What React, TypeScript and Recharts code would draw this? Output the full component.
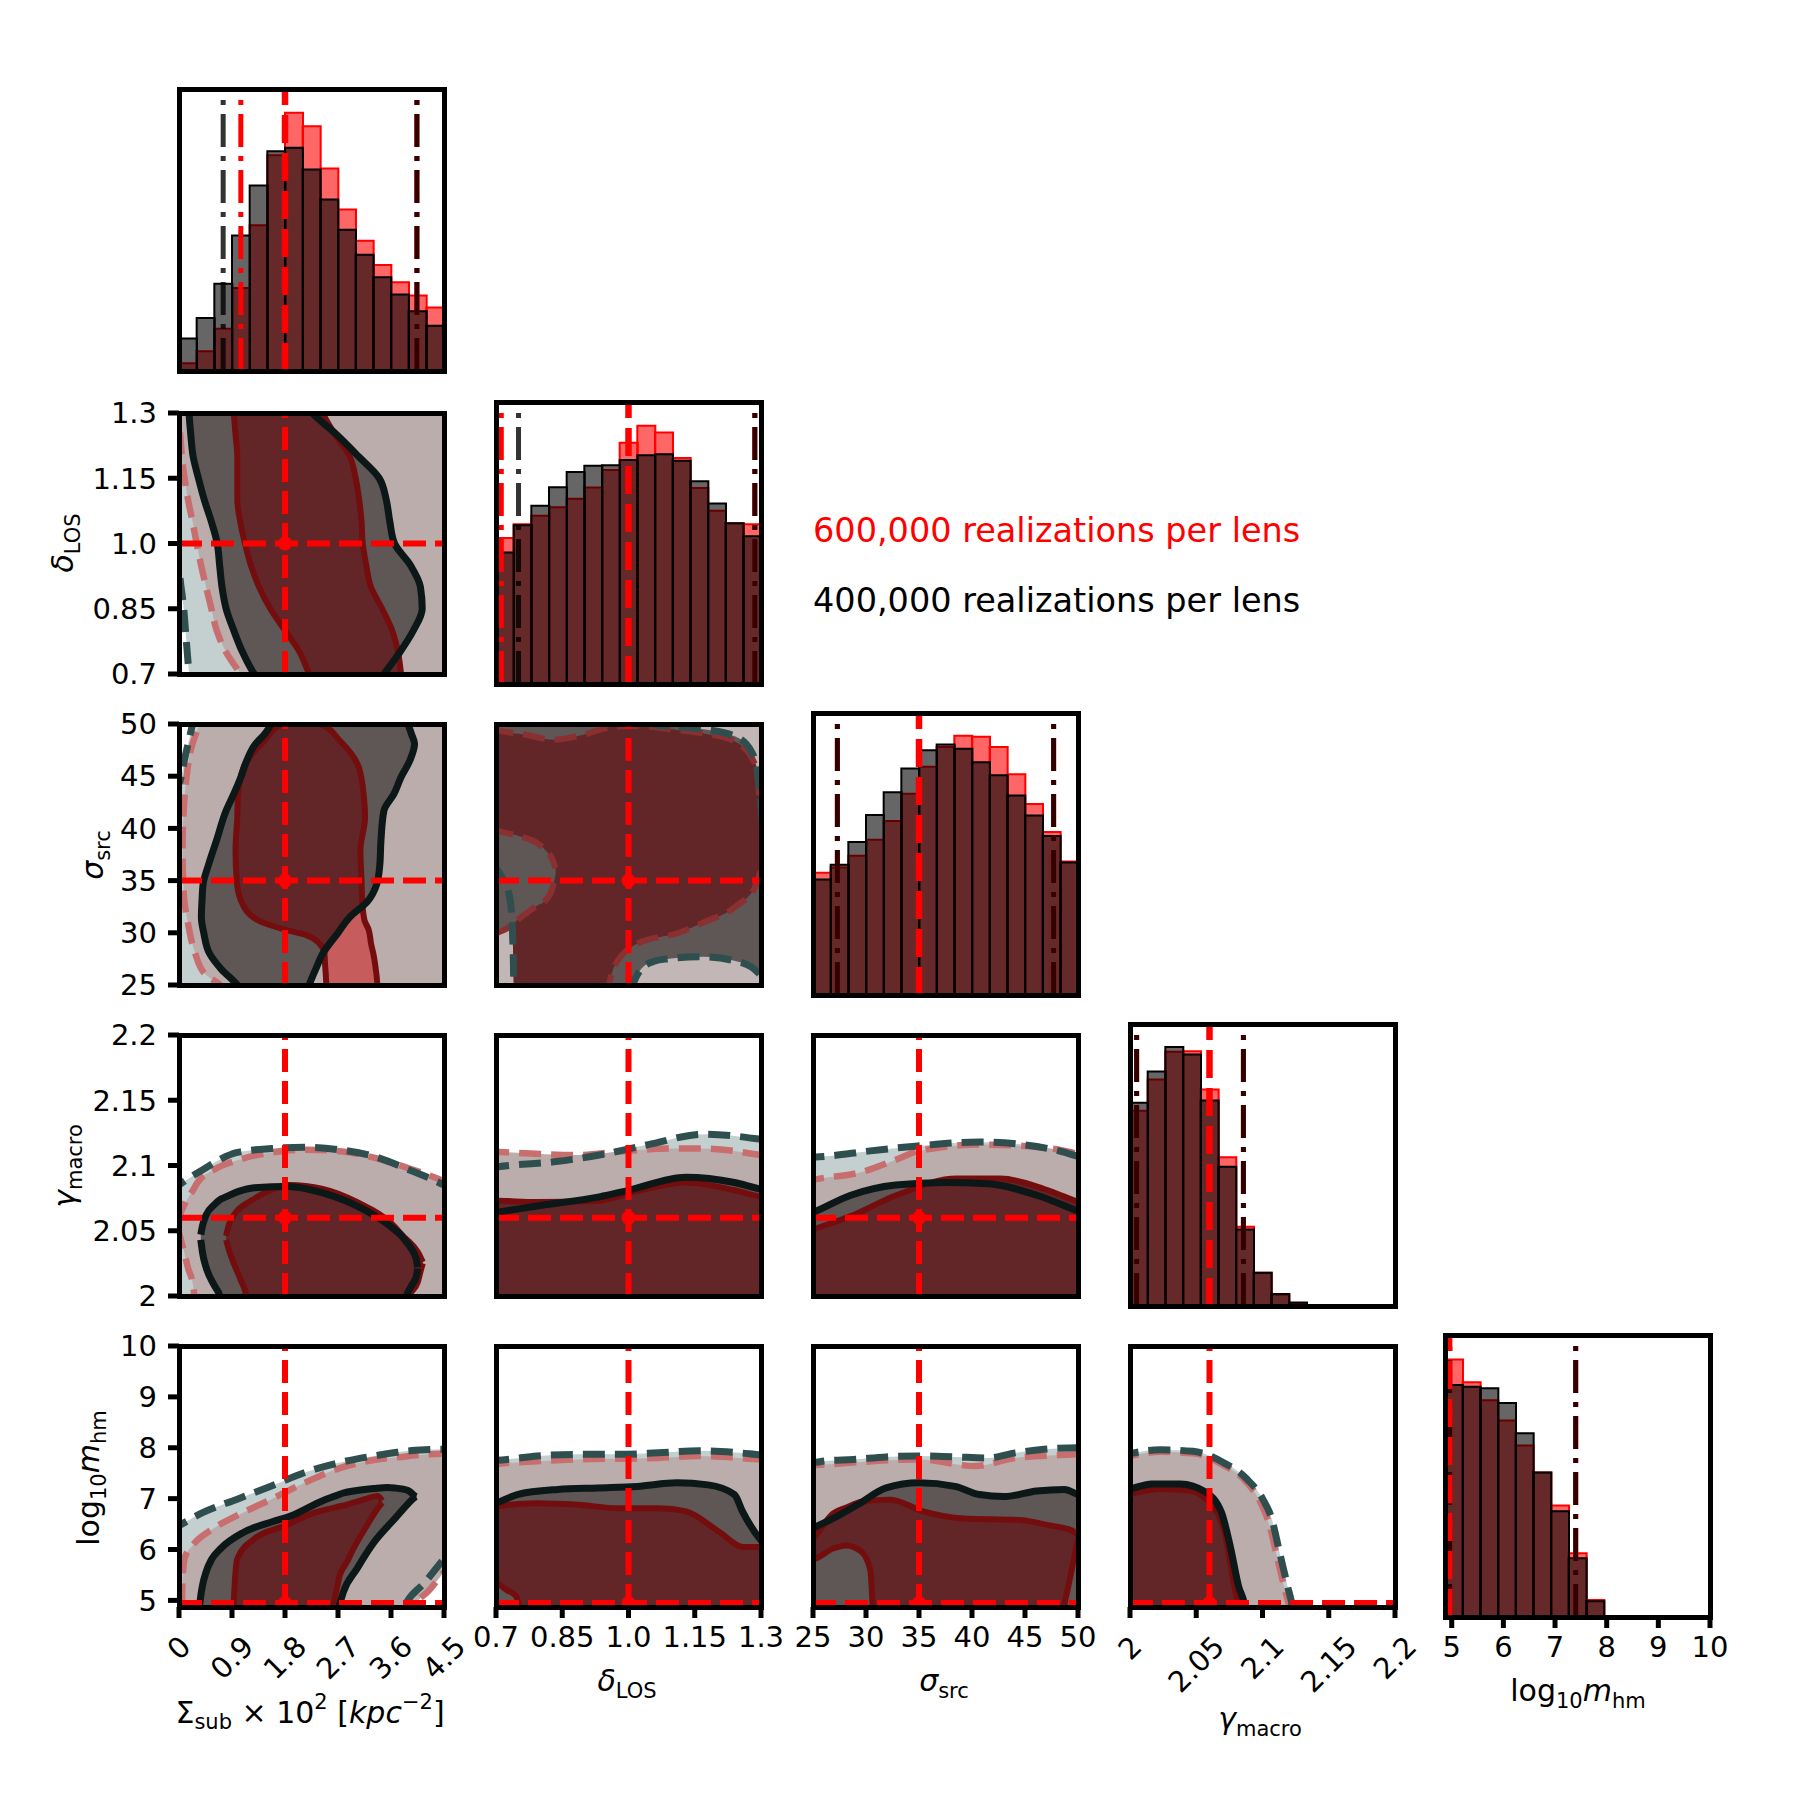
import React from "react";
import {
  ComposedChart,
  Area,
  Bar,
  XAxis,
  YAxis,
  ReferenceLine,
  ReferenceDot,
} from "recharts";

// [t, lo, hi]: t runs along the independent axis, [lo, hi] is the covered span
type Band = [number, number, number];

// ---- parameter axes ----
const SUB_TICKS = [0, 0.9, 1.8, 2.7, 3.6, 4.5];
const SUB_LABELS = ["0", "0.9", "1.8", "2.7", "3.6", "4.5"];
const LOS_TICKS = [0.7, 0.85, 1.0, 1.15, 1.3];
const LOS_LABELS = ["0.7", "0.85", "1.0", "1.15", "1.3"];
const SRC_TICKS = [25, 30, 35, 40, 45, 50];
const SRC_LABELS = ["25", "30", "35", "40", "45", "50"];
const GAM_TICKS = [2, 2.05, 2.1, 2.15, 2.2];
const GAM_LABELS = ["2", "2.05", "2.1", "2.15", "2.2"];
const MHM_TICKS = [5, 6, 7, 8, 9, 10];
const MHM_LABELS = ["5", "6", "7", "8", "9", "10"];

// true input values
const TRUTH = [1.8, 1.0, 35, 2.06, 4.95];

// ---- marginal histograms (15 bins each, 600k run in red, 400k run in black) ----
const SUB_RED = [23, 58, 124, 244, 429, 635, 760, 720, 596, 475, 383, 312, 261, 222, 187];
const SUB_BLACK = [96, 156, 257, 399, 546, 647, 657, 593, 505, 416, 342, 276, 225, 176, 133];
const LOS_RED = [430, 470, 495, 520, 545, 578, 630, 710, 760, 740, 665, 577, 510, 473, 470];
const LOS_BLACK = [387, 467, 525, 579, 624, 642, 644, 659, 673, 676, 657, 597, 531, 473, 435];
const SRC_RED = [360, 375, 410, 457, 512, 592, 672, 730, 763, 760, 730, 650, 562, 480, 393];
const SRC_BLACK = [340, 383, 450, 530, 597, 667, 720, 737, 725, 685, 647, 587, 528, 468, 390];
const GAM_RED = [575, 667, 748, 750, 637, 438, 233, 98, 33, 8, 2, 0, 0, 0, 0];
const GAM_BLACK = [598, 690, 762, 740, 605, 410, 225, 98, 35, 10, 3, 0, 0, 0, 0];
const MHM_RED = [758, 691, 638, 578, 505, 425, 328, 188, 50, 3, 0, 0, 0, 0, 0];
const MHM_BLACK = [683, 678, 673, 630, 541, 425, 311, 173, 46, 0, 0, 0, 0, 0, 0];

// 95% interval bounds drawn on the marginals
const SUB_CI_RED = [1.05, 4.04];
const SUB_CI_BLACK = [0.75, 4.04];
const LOS_CI_RED = [0.712, 1.286];
const LOS_CI_BLACK = [0.751, 1.286];
const SRC_CI_RED = [27.3, 47.7];
const SRC_CI_BLACK = [27.3, 47.7];
const GAM_CI_RED = [2.005, 2.0856];
const GAM_CI_BLACK = [2.005, 2.0856];
const MHM_CI_RED = [4.96, 7.4];
const MHM_CI_BLACK = [4.96, 7.4];

// ---- joint contours. K = 400k run, R = 600k run, 2 = 95%, 1 = 68% ----
// delta_LOS (t) vs Sigma_sub (span)
const LOS_SUB_K2: Band[] = [
  [0.65, 0.2, 5], [0.7, 0.17, 5], [0.75, 0.14, 5], [0.8, 0.11, 5], [0.85, 0.08, 5],
  [0.9, 0.035, 5], [0.93, 0.0, 5], [0.95, -0.5, 5], [1.35, -0.5, 5],
];
const LOS_SUB_R2: Band[] = [
  [0.65, 1.3, 5], [0.7, 1.045, 5], [0.75, 0.8, 5], [0.8, 0.64, 5], [0.85, 0.55, 5],
  [0.9, 0.46, 5], [0.95, 0.375, 5], [1.0, 0.3, 5], [1.05, 0.23, 5], [1.1, 0.155, 5],
  [1.15, 0.095, 5], [1.2, 0.05, 5], [1.25, 0.02, 5], [1.28, 0.0, 5], [1.3, -0.5, 5], [1.35, -0.5, 5],
];
const LOS_SUB_K1: Band[] = [
  [0.65, 1.6, 3.2], [0.7, 1.28, 3.48], [0.75, 1.08, 3.75], [0.8, 0.93, 3.98], [0.85, 0.8, 4.13],
  [0.9, 0.73, 4.1], [0.95, 0.69, 3.93], [1.0, 0.65, 3.66], [1.05, 0.55, 3.58], [1.1, 0.43, 3.52],
  [1.15, 0.33, 3.4], [1.2, 0.24, 3.05], [1.25, 0.2, 2.68], [1.3, 0.17, 2.26], [1.35, 0.15, 2.0],
];
const LOS_SUB_R1: Band[] = [
  [0.65, 2.4, 3.8], [0.7, 2.21, 3.77], [0.75, 2.05, 3.72], [0.8, 1.8, 3.62], [0.85, 1.55, 3.45],
  [0.9, 1.36, 3.26], [0.95, 1.22, 3.18], [1.0, 1.12, 3.12], [1.05, 1.04, 3.1], [1.1, 0.99, 3.06],
  [1.15, 0.99, 3.0], [1.2, 0.99, 2.9], [1.25, 0.96, 2.65], [1.3, 0.93, 2.44], [1.35, 0.9, 2.3],
];

// sigma_src (t) vs Sigma_sub (span)
const SRC_SUB_K2: Band[] = [
  [24, -0.5, 5], [44.0, -0.5, 5], [44.3, 0.0, 5], [45, 0.04, 5], [46.5, 0.09, 5],
  [48, 0.15, 5], [50, 0.23, 5], [51, 0.27, 5],
];
const SRC_SUB_R2: Band[] = [
  [24, 0.8, 5], [25, 0.7, 5], [26, 0.45, 5], [28.3, 0.26, 5], [31, 0.15, 5], [33.1, 0.09, 5],
  [36, 0.065, 5], [38, 0.06, 5], [42.7, 0.09, 5], [45, 0.13, 5], [47.5, 0.2, 5], [50, 0.35, 5], [51, 0.42, 5],
];
const SRC_SUB_K1: Band[] = [
  [24, 1.1, 2.15], [25, 0.99, 2.21], [26.5, 0.72, 2.32], [28, 0.52, 2.44], [30, 0.42, 2.7],
  [31.5, 0.38, 2.9], [33, 0.39, 3.2], [34.7, 0.41, 3.36], [36.5, 0.5, 3.41], [38.9, 0.64, 3.43],
  [41.7, 0.8, 3.48], [43.3, 0.93, 3.65], [44.9, 1.05, 3.77], [46.5, 1.15, 3.92], [48.1, 1.3, 4.0],
  [49, 1.45, 3.95], [50, 1.57, 3.89], [51, 1.7, 3.85],
];
const SRC_SUB_R1: Band[] = [
  [24, 2.5, 3.38], [25, 2.5, 3.37], [27, 2.48, 3.33], [28, 2.47, 3.3], [29, 2.38, 3.26],
  [29.8, 2.15, 3.24], [30.3, 1.8, 3.22], [31.2, 1.34, 3.15], [33.1, 1.05, 3.11], [35, 0.98, 3.1],
  [37.9, 0.96, 3.08], [41.1, 0.99, 3.16], [43, 1.0, 3.14], [45.9, 1.1, 3.05], [48.4, 1.45, 2.73],
  [50, 1.75, 2.4], [50.5, 2.0, 2.1],
];
// part of the red 68% region lying outside the black one
const SRC_SUB_RONLY: Band[] = [
  [24, 2.5, 3.38], [25, 2.5, 3.37], [27, 2.48, 3.33], [28, 2.47, 3.3], [29, 2.57, 3.26],
  [30, 2.7, 3.22], [31.5, 2.92, 3.15], [32.6, 3.1, 3.11],
];

// sigma_src (span) vs delta_LOS (t)
const SRC_LOS_OUT: Band[] = [[0.65, 20, 55], [1.35, 20, 55]];
const SRC_LOS_K2: Band[] = [
  [0.69, 36.6, 51], [0.7, 36.2, 51], [0.715, 35.2, 51], [0.729, 33.8, 51], [0.736, 31.5, 51],
  [0.739, 28, 51], [0.741, 24, 51], [1.0, 24, 51], [1.009, 25, 51], [1.03, 26.6, 51],
  [1.06, 27.3, 49.9], [1.087, 27.5, 49.8], [1.169, 27.7, 49.5], [1.242, 27.3, 48.8],
  [1.279, 26.7, 47.3], [1.293, 26.2, 45.1], [1.3, 25.9, 42], [1.31, 25.5, 36],
];
const SRC_LOS_R1: Band[] = [
  [0.69, 36.6, 49.45], [0.7, 36.2, 49.45], [0.715, 35.2, 49.3], [0.729, 33.8, 49.2],
  [0.736, 31.5, 49.15], [0.739, 28, 49.1], [0.741, 24, 49.1], [0.83, 24, 48.5], [0.9, 24, 49.0],
  [0.949, 24.5, 49.6], [0.967, 26.7, 49.75], [1.022, 29.0, 49.8], [1.114, 30.0, 49.4],
  [1.17, 31.0, 49.1], [1.242, 32.5, 48.3], [1.288, 34.5, 46.0], [1.297, 35.7, 42.8], [1.31, 37, 40],
];
const SRC_LOS_GAP: Band[] = [
  [0.69, 29.5, 39.9], [0.7, 29.9, 39.8], [0.72, 30.3, 39.6], [0.757, 31.5, 39.2],
  [0.793, 32.6, 38.6], [0.812, 33.1, 37.9], [0.828, 34.3, 37.0], [0.835, 35.6, 36.2],
];

// gamma_macro (span) vs Sigma_sub (t)
const GAM_SUB_K2: Band[] = [
  [-0.2, 1.95, 2.078], [0, 1.95, 2.085], [0.41, 1.95, 2.097], [0.99, 1.95, 2.11], [1.57, 1.95, 2.113],
  [2.15, 1.95, 2.114], [2.73, 1.95, 2.112], [3.31, 1.95, 2.107], [3.89, 1.95, 2.097], [4.5, 1.95, 2.085],
  [4.7, 1.95, 2.08],
];
const GAM_SUB_R2: Band[] = [
  [-0.05, 2.052, 2.057], [0.0, 2.048, 2.06], [0.05, 2.04, 2.066], [0.15, 2.022, 2.075],
  [0.25, 2.005, 2.082], [0.3, 1.95, 2.086], [0.6, 1.95, 2.097], [0.99, 1.95, 2.104], [1.57, 1.95, 2.11],
  [2.15, 1.95, 2.112], [2.73, 1.95, 2.111], [3.31, 1.95, 2.106], [3.89, 1.95, 2.098], [4.5, 1.95, 2.088],
  [4.7, 1.95, 2.084],
];
const GAM_SUB_K1: Band[] = [
  [0.37, 2.043, 2.047], [0.4, 2.033, 2.054], [0.46, 2.022, 2.062], [0.6, 2.008, 2.07], [0.7, 1.999, 2.074],
  [0.75, 1.95, 2.075], [1.0, 1.95, 2.08], [1.28, 1.95, 2.083], [1.86, 1.95, 2.084], [2.44, 1.95, 2.079],
  [3.02, 1.95, 2.069], [3.6, 1.95, 2.053], [3.78, 1.95, 2.046], [3.85, 1.998, 2.042], [3.95, 2.008, 2.036],
  [4.03, 2.015, 2.028], [4.05, 2.021, 2.022],
];
const GAM_SUB_R1: Band[] = [
  [0.8, 2.043, 2.046], [0.85, 2.035, 2.055], [0.93, 2.025, 2.062], [1.05, 2.012, 2.068], [1.15, 1.999, 2.071],
  [1.22, 1.95, 2.073], [1.5, 1.95, 2.08], [1.86, 1.95, 2.085], [2.44, 1.95, 2.082], [3.02, 1.95, 2.072],
  [3.6, 1.95, 2.056], [3.85, 1.95, 2.044], [3.9, 1.999, 2.042], [4.05, 2.01, 2.034], [4.12, 2.022, 2.028],
  [4.14, 2.025, 2.026],
];

// gamma_macro (span) vs delta_LOS (t)
const GAM_LOS_K2: Band[] = [
  [0.68, 1.95, 2.098], [0.73, 1.95, 2.1], [0.836, 1.95, 2.103], [0.934, 1.95, 2.108], [1.045, 1.95, 2.116],
  [1.171, 1.95, 2.124], [1.3, 1.95, 2.12], [1.32, 1.95, 2.119],
];
const GAM_LOS_R2: Band[] = [
  [0.68, 1.95, 2.111], [0.79, 1.95, 2.109], [0.88, 1.95, 2.108], [0.99, 1.95, 2.111], [1.09, 1.95, 2.113],
  [1.17, 1.95, 2.113], [1.3, 1.95, 2.108], [1.32, 1.95, 2.107],
];
const GAM_LOS_K1: Band[] = [
  [0.68, 1.95, 2.063], [0.7, 1.95, 2.064], [0.793, 1.95, 2.069], [0.934, 1.95, 2.076], [1.0, 1.95, 2.081],
  [1.13, 1.95, 2.091], [1.24, 1.95, 2.087], [1.3, 1.95, 2.082], [1.32, 1.95, 2.081],
];
const GAM_LOS_R1: Band[] = [
  [0.68, 1.95, 2.073], [0.7, 1.95, 2.073], [0.79, 1.95, 2.072], [0.93, 1.95, 2.073], [1.015, 1.95, 2.08],
  [1.13, 1.95, 2.087], [1.24, 1.95, 2.081], [1.3, 1.95, 2.076], [1.32, 1.95, 2.075],
];

// gamma_macro (span) vs sigma_src (t)
const GAM_SRC_K2: Band[] = [
  [24, 1.95, 2.106], [26.2, 1.95, 2.107], [30.2, 1.95, 2.111], [34.9, 1.95, 2.115], [40.7, 1.95, 2.118],
  [44.8, 1.95, 2.116], [48.3, 1.95, 2.111], [50, 1.95, 2.107], [51, 1.95, 2.105],
];
const GAM_SRC_R2: Band[] = [
  [24, 1.95, 2.087], [25, 1.95, 2.089], [29.6, 1.95, 2.095], [33, 1.95, 2.105], [34.9, 1.95, 2.111],
  [40.7, 1.95, 2.116], [44.8, 1.95, 2.115], [48.3, 1.95, 2.112], [50, 1.95, 2.109], [51, 1.95, 2.108],
];
const GAM_SRC_K1: Band[] = [
  [24, 1.95, 2.061], [25, 1.95, 2.064], [28.5, 1.95, 2.077], [32.8, 1.95, 2.085], [37.4, 1.95, 2.087],
  [41.5, 1.95, 2.086], [46.2, 1.95, 2.077], [50, 1.95, 2.065], [51, 1.95, 2.062],
];
const GAM_SRC_R1: Band[] = [
  [24, 1.95, 2.048], [25, 1.95, 2.051], [28.5, 1.95, 2.061], [32.8, 1.95, 2.077], [38.6, 1.95, 2.09],
  [42.7, 1.95, 2.09], [46.8, 1.95, 2.082], [50, 1.95, 2.072], [51, 1.95, 2.069],
];

// log10 m_hm (span) vs Sigma_sub (t)
const MHM_SUB_K2: Band[] = [
  [-0.2, 4.5, 6.35], [0, 4.5, 6.47], [0.41, 4.5, 6.73], [0.99, 4.5, 6.99], [1.57, 4.5, 7.25],
  [2.15, 4.5, 7.52], [2.73, 4.5, 7.71], [3.31, 4.5, 7.84], [3.7, 4.5, 7.91], [3.83, 4.88, 7.93],
  [4.18, 5.36, 7.96], [4.5, 5.82, 7.97], [4.7, 6.1, 7.97],
];
const MHM_SUB_R2: Band[] = [
  [0.05, 4.5, 4.9], [0.06, 4.5, 5.4], [0.1, 4.5, 5.85], [0.23, 4.5, 6.08], [0.58, 4.5, 6.41],
  [0.99, 4.5, 6.67], [1.57, 4.5, 6.99], [2.15, 4.5, 7.32], [2.73, 4.5, 7.6], [3.31, 4.5, 7.76],
  [3.85, 4.5, 7.83], [3.99, 4.88, 7.85], [4.25, 5.2, 7.87], [4.5, 5.56, 7.88], [4.7, 5.85, 7.88],
];
const MHM_SUB_K1: Band[] = [
  [0.33, 4.5, 4.6], [0.36, 4.5, 5.0], [0.4, 4.5, 5.3], [0.46, 4.5, 5.56], [0.55, 4.5, 5.8],
  [0.7, 4.5, 6.01], [1.1, 4.5, 6.34], [1.57, 4.5, 6.54], [1.92, 4.5, 6.67], [2.44, 4.5, 6.96],
  [2.65, 4.5, 7.05], [2.72, 4.88, 7.08], [2.79, 5.16, 7.11], [3.02, 5.62, 7.16], [3.31, 6.14, 7.2],
  [3.54, 6.45, 7.22], [3.66, 6.6, 7.21], [3.89, 6.9, 7.16], [4.01, 7.03, 7.05], [4.03, 7.04, 7.04],
];
const MHM_SUB_R1: Band[] = [
  [0.92, 4.5, 4.7], [0.95, 4.5, 5.4], [0.99, 4.5, 5.82], [1.28, 4.5, 6.21], [1.8, 4.5, 6.47],
  [2.32, 4.5, 6.73], [2.55, 4.5, 6.8], [2.62, 4.88, 6.82], [2.73, 5.49, 6.85], [2.85, 5.75, 6.88],
  [2.96, 6.01, 6.92], [3.19, 6.47, 7.0], [3.37, 6.8, 7.05], [3.45, 6.92, 6.96],
];

// log10 m_hm (span) vs delta_LOS (t)
const MHM_LOS_K2: Band[] = [
  [0.68, 4.5, 7.74], [0.725, 4.5, 7.77], [0.793, 4.5, 7.84], [0.885, 4.5, 7.87], [0.977, 4.5, 7.87],
  [1.068, 4.5, 7.9], [1.16, 4.5, 7.94], [1.251, 4.5, 7.9], [1.3, 4.5, 7.86], [1.32, 4.5, 7.85],
];
const MHM_LOS_R2: Band[] = [
  [0.68, 4.5, 7.67], [0.725, 4.5, 7.7], [0.885, 4.5, 7.77], [1.068, 4.5, 7.8], [1.16, 4.5, 7.84],
  [1.3, 4.5, 7.77], [1.32, 4.5, 7.76],
];
const MHM_LOS_K1: Band[] = [
  [0.68, 4.5, 6.86], [0.7, 4.5, 6.91], [0.748, 4.5, 7.08], [0.84, 4.5, 7.18], [0.93, 4.5, 7.21],
  [1.02, 4.5, 7.24], [1.11, 4.5, 7.31], [1.18, 4.5, 7.27], [1.24, 4.5, 7.08], [1.258, 4.5, 6.75],
  [1.3, 4.5, 6.18], [1.32, 4.5, 6.0],
];
const MHM_LOS_R1: Band[] = [
  [0.68, 5.5, 6.83], [0.7, 5.36, 6.84], [0.725, 5.2, 6.87], [0.745, 5.09, 6.89], [0.766, 4.5, 6.9],
  [0.793, 4.5, 6.91], [0.885, 4.5, 6.88], [0.977, 4.5, 6.81], [1.068, 4.5, 6.81], [1.13, 4.5, 6.75],
  [1.205, 4.5, 6.35], [1.26, 4.5, 6.05], [1.3, 4.5, 6.05], [1.32, 4.5, 6.05],
];

// log10 m_hm (span) vs sigma_src (t)
const MHM_SRC_K2: Band[] = [
  [24, 4.5, 7.7], [25, 4.5, 7.71], [26.15, 4.5, 7.74], [28.8, 4.5, 7.77], [31.9, 4.5, 7.82],
  [35, 4.5, 7.84], [38.4, 4.5, 7.82], [41.5, 4.5, 7.8], [44.1, 4.5, 7.9], [46.8, 4.5, 7.97],
  [50, 4.5, 8.0], [51, 4.5, 8.0],
];
const MHM_SRC_R2: Band[] = [
  [24, 4.5, 7.64], [26.15, 4.5, 7.67], [35, 4.5, 7.77], [40.3, 4.5, 7.64], [44.1, 4.5, 7.8],
  [50, 4.5, 7.87], [51, 4.5, 7.88],
];
const MHM_SRC_K1: Band[] = [
  [24, 4.5, 6.3], [25, 4.5, 6.42], [26.9, 4.5, 6.61], [29.2, 4.5, 6.88], [31.9, 4.5, 7.21],
  [35, 4.5, 7.31], [38.4, 4.5, 7.24], [40.7, 4.5, 7.08], [43.0, 4.5, 7.04], [46.1, 4.5, 7.15],
  [48.7, 4.5, 7.18], [50, 4.5, 7.08], [51, 4.5, 7.0],
];
const MHM_SRC_R1: Band[] = [
  [24, 5.8, 6.1], [25, 5.81, 6.22], [26.9, 6.02, 6.71], [28.1, 6.08, 6.82], [29.6, 5.95, 6.94],
  [30.4, 5.6, 6.96], [30.6, 5.0, 6.97], [30.7, 4.5, 6.97], [32.3, 4.5, 6.98], [35.4, 4.5, 6.75],
  [39.2, 4.5, 6.61], [44.5, 4.5, 6.58], [47.2, 4.5, 6.48], [48.5, 4.5, 6.43], [48.7, 4.88, 6.42],
  [49.1, 5.29, 6.4], [49.6, 5.8, 6.35], [50, 6.18, 6.28], [50.2, 6.25, 6.26],
];

// log10 m_hm (span) vs gamma_macro (t)
const MHM_GAM_K2: Band[] = [
  [1.99, 4.5, 7.85], [2.0, 4.5, 7.89], [2.0225, 4.5, 7.96], [2.0475, 4.5, 7.93], [2.069, 4.5, 7.73],
  [2.088, 4.5, 7.39], [2.1, 4.5, 7.0], [2.107, 4.5, 6.6], [2.113, 4.5, 5.93], [2.119, 4.5, 5.27],
  [2.1225, 4.5, 4.88], [2.124, 4.5, 4.6],
];
const MHM_GAM_R2: Band[] = [
  [1.99, 4.5, 7.8], [2.0, 4.5, 7.84], [2.0225, 4.5, 7.92], [2.0475, 4.5, 7.89], [2.069, 4.5, 7.68],
  [2.087, 4.5, 7.35], [2.098, 4.5, 6.95], [2.105, 4.5, 6.5], [2.111, 4.5, 5.85], [2.117, 4.5, 5.2],
  [2.1205, 4.5, 4.85], [2.122, 4.5, 4.6],
];
const MHM_GAM_K1: Band[] = [
  [1.99, 4.5, 7.15], [2.0, 4.5, 7.19], [2.0163, 4.5, 7.29], [2.038, 4.5, 7.29], [2.057, 4.5, 7.13],
  [2.069, 4.5, 6.73], [2.0756, 4.5, 6.07], [2.082, 4.5, 5.27], [2.0866, 4.5, 4.88], [2.088, 4.5, 4.6],
];
const MHM_GAM_R1: Band[] = [
  [1.99, 4.5, 7.05], [2.0, 4.5, 7.09], [2.0225, 4.5, 7.19], [2.044, 4.5, 7.16], [2.0625, 4.5, 6.86],
  [2.072, 4.5, 6.27], [2.078, 4.5, 5.4], [2.0815, 4.5, 4.88], [2.083, 4.5, 4.6],
];

// ---- layout ----
const FONT = "'DejaVu Sans', sans-serif";
const TICK_PX = 29;
const COL_X = [179, 496, 813, 1130, 1445];
const HIST_TOP = [89, 402, 713, 1024, 1335];
const PAIR_TOP = [0, 413, 724, 1035, 1346];
const PANEL_W = 265;
const PAIR_H = 261;
const HIST_H = 282;
const HIST_MAX = 830;

const COLORS = {
  k2Fill: "#c4d0d0",
  r2Fill: "#bcadad",
  k1Fill: "#5f5656",
  r1Fill: "#632628",
  rOnly: "#c65c5c",
  lobe: "#c3b6b6",
  k2Line: "#2f4f4f",
  r2Line: "#c96e6e",
  k1Line: "#0c1717",
  r1Line: "#740e0e",
  r1Dash: "#8a3030",
};

interface Param {
  domain: [number, number];
  ticks: number[];
  labels: string[];
  slant: boolean;
}

const PARAMS: Param[] = [
  { domain: [0, 4.5], ticks: SUB_TICKS, labels: SUB_LABELS, slant: true },
  { domain: [0.7, 1.3], ticks: LOS_TICKS, labels: LOS_LABELS, slant: false },
  { domain: [25, 50], ticks: SRC_TICKS, labels: SRC_LABELS, slant: false },
  { domain: [2, 2.2], ticks: GAM_TICKS, labels: GAM_LABELS, slant: true },
  { domain: [4.87, 10], ticks: MHM_TICKS, labels: MHM_LABELS, slant: false },
];

const HISTS = [
  { red: SUB_RED, black: SUB_BLACK, ciRed: SUB_CI_RED, ciBlack: SUB_CI_BLACK },
  { red: LOS_RED, black: LOS_BLACK, ciRed: LOS_CI_RED, ciBlack: LOS_CI_BLACK },
  { red: SRC_RED, black: SRC_BLACK, ciRed: SRC_CI_RED, ciBlack: SRC_CI_BLACK },
  { red: GAM_RED, black: GAM_BLACK, ciRed: GAM_CI_RED, ciBlack: GAM_CI_BLACK },
  { red: MHM_RED, black: MHM_BLACK, ciRed: MHM_CI_RED, ciBlack: MHM_CI_BLACK },
];

interface Layer {
  rows: Band[];
  fill?: string;
  line?: string;
  dash?: string;
  lw?: number;
  rank?: number;
}

// fills go black 95%, red 95%, black 68%, red 68%; outlines put the black ones on top
const std = (k2: Band[], r2: Band[], k1: Band[], r1: Band[]): Layer[] => [
  { rows: k2, fill: COLORS.k2Fill, line: COLORS.k2Line, dash: "22 10", lw: 7, rank: 1 },
  { rows: r2, fill: COLORS.r2Fill, line: COLORS.r2Line, dash: "22 10", lw: 6.5, rank: 0 },
  { rows: k1, fill: COLORS.k1Fill, line: COLORS.k1Line, lw: 7, rank: 3 },
  { rows: r1, fill: COLORS.r1Fill, line: COLORS.r1Line, lw: 6, rank: 2 },
];

const PAIRS: { row: number; col: number; vertical?: boolean; layers: Layer[] }[] = [
  { row: 1, col: 0, vertical: true, layers: std(LOS_SUB_K2, LOS_SUB_R2, LOS_SUB_K1, LOS_SUB_R1) },
  {
    row: 2,
    col: 0,
    vertical: true,
    layers: [...std(SRC_SUB_K2, SRC_SUB_R2, SRC_SUB_K1, SRC_SUB_R1), { rows: SRC_SUB_RONLY, fill: COLORS.rOnly }],
  },
  {
    row: 2,
    col: 1,
    layers: [
      { rows: SRC_LOS_OUT, fill: COLORS.lobe },
      { rows: SRC_LOS_K2, fill: COLORS.k1Fill, line: COLORS.k2Line, dash: "22 10", lw: 7, rank: 2 },
      { rows: SRC_LOS_R1, fill: COLORS.r1Fill, line: COLORS.r1Dash, dash: "22 10", lw: 6, rank: 0 },
      { rows: SRC_LOS_GAP, fill: COLORS.k1Fill, line: COLORS.r1Dash, dash: "22 10", lw: 6, rank: 1 },
    ],
  },
  { row: 3, col: 0, layers: std(GAM_SUB_K2, GAM_SUB_R2, GAM_SUB_K1, GAM_SUB_R1) },
  { row: 3, col: 1, layers: std(GAM_LOS_K2, GAM_LOS_R2, GAM_LOS_K1, GAM_LOS_R1) },
  { row: 3, col: 2, layers: std(GAM_SRC_K2, GAM_SRC_R2, GAM_SRC_K1, GAM_SRC_R1) },
  { row: 4, col: 0, layers: std(MHM_SUB_K2, MHM_SUB_R2, MHM_SUB_K1, MHM_SUB_R1) },
  { row: 4, col: 1, layers: std(MHM_LOS_K2, MHM_LOS_R2, MHM_LOS_K1, MHM_LOS_R1) },
  { row: 4, col: 2, layers: std(MHM_SRC_K2, MHM_SRC_R2, MHM_SRC_K1, MHM_SRC_R1) },
  { row: 4, col: 3, layers: std(MHM_GAM_K2, MHM_GAM_R2, MHM_GAM_K1, MHM_GAM_R1) },
];

const toRows = (b: Band[]) => b.map(([t, lo, hi]) => ({ t, band: [lo, hi] }));

const labelOf = (p: Param) => (v: number) => {
  const i = p.ticks.indexOf(v);
  return i >= 0 ? p.labels[i] : String(v);
};

// rough DejaVu Sans advance widths for tick strings
const textWidth = (s: string, size: number) =>
  s.split("").reduce((w, ch) => w + (ch === "." ? 0.318 : 0.636), 0) * size;

function SlantTick(props: any) {
  const { x, y, payload, fmt } = props;
  const label = fmt(payload.value);
  const half = ((textWidth(label, TICK_PX) + 21) * Math.SQRT1_2) / 2;
  const cy = y + 8 + half;
  return (
    <text
      x={x}
      y={cy}
      textAnchor="middle"
      dominantBaseline="central"
      transform={`rotate(-45, ${x}, ${cy})`}
      fontSize={TICK_PX}
      fontFamily={FONT}
      fill="#000"
    >
      {label}
    </text>
  );
}

const TICK_TEXT = { fontSize: TICK_PX, fill: "#000", fontFamily: FONT };
const TICK_LINE = { stroke: "#000", strokeWidth: 5 };

function Frame({ x, y, w, h }: { x: number; y: number; w: number; h: number }) {
  return (
    <div
      style={{
        position: "absolute",
        left: x - 2.5,
        top: y - 2.5,
        width: w + 5,
        height: h + 5,
        border: "5px solid #000",
        boxSizing: "border-box",
      }}
    />
  );
}

function bottomAxis(p: Param, show: boolean, extra: Record<string, unknown>) {
  const fmt = labelOf(p);
  return (
    <XAxis
      type="number"
      domain={p.domain}
      allowDataOverflow
      ticks={p.ticks}
      interval={0}
      hide={!show}
      height={110}
      tickSize={11}
      tickMargin={8}
      tickLine={TICK_LINE}
      axisLine={false}
      tick={p.slant ? <SlantTick fmt={fmt} /> : TICK_TEXT}
      tickFormatter={fmt}
      {...extra}
    />
  );
}

// chart padding around a panel: room for tick labels only where they are drawn
const padsFor = (showY: boolean, showX: boolean) => ({
  top: showY ? 25 : 10,
  left: showY ? 130 : showX ? 40 : 10,
  right: showX ? 40 : 10,
  bottom: showX ? 120 : showY ? 25 : 10,
});

function PairPanel({ spec }: { spec: (typeof PAIRS)[number] }) {
  const { row, col, vertical, layers } = spec;
  const px = PARAMS[col];
  const py = PARAMS[row];
  const showY = col === 0;
  const showX = row === 4;
  const pad = padsFor(showY, showX);
  const strokes = layers.filter((l) => l.line).sort((a, b) => (a.rank ?? 0) - (b.rank ?? 0));
  return (
    <>
      <div style={{ position: "absolute", left: COL_X[col] - pad.left, top: PAIR_TOP[row] - pad.top }}>
        <ComposedChart
          width={PANEL_W + pad.left + pad.right}
          height={PAIR_H + pad.top + pad.bottom}
          layout={vertical ? "vertical" : "horizontal"}
          margin={{
            top: pad.top,
            right: pad.right,
            left: showY ? pad.left - 120 : pad.left,
            bottom: showX ? pad.bottom - 110 : pad.bottom,
          }}
        >
          {bottomAxis(px, showX, vertical ? {} : { dataKey: "t" })}
          <YAxis
            type="number"
            dataKey={vertical ? "t" : undefined}
            domain={py.domain}
            reversed={!!vertical}
            allowDataOverflow
            ticks={py.ticks}
            interval={0}
            hide={!showY}
            width={120}
            tickSize={11}
            tickMargin={11}
            tickLine={TICK_LINE}
            axisLine={false}
            tick={TICK_TEXT}
            tickFormatter={labelOf(py)}
          />
          {layers
            .filter((l) => l.fill)
            .map((l, i) => (
              <Area
                key={`fill-${i}`}
                data={toRows(l.rows)}
                dataKey="band"
                type="monotone"
                fill={l.fill}
                fillOpacity={1}
                stroke="none"
                dot={false}
                activeDot={false}
                isAnimationActive={false}
              />
            ))}
          {strokes.map((l, i) => (
            <Area
              key={`line-${i}`}
              data={toRows(l.rows)}
              dataKey="band"
              type="monotone"
              fill="none"
              stroke={l.line}
              strokeWidth={l.lw}
              strokeDasharray={l.dash}
              dot={false}
              activeDot={false}
              isAnimationActive={false}
            />
          ))}
          <ReferenceLine x={TRUTH[col]} stroke="#ff0000" strokeWidth={6} strokeDasharray="23 9" />
          <ReferenceLine y={TRUTH[row]} stroke="#ff0000" strokeWidth={6} strokeDasharray="23 9" />
          <ReferenceDot x={TRUTH[col]} y={TRUTH[row]} r={7} fill="#ff0000" stroke="none" ifOverflow="visible" />
        </ComposedChart>
      </div>
      <Frame x={COL_X[col]} y={PAIR_TOP[row]} w={PANEL_W} h={PAIR_H} />
    </>
  );
}

function HistPanel({ idx }: { idx: number }) {
  const p = PARAMS[idx];
  const h = HISTS[idx];
  const [lo, hi] = p.domain;
  const n = h.red.length;
  const rows = h.red.map((r, i) => ({
    bin: i,
    mid: lo + ((i + 0.5) * (hi - lo)) / n,
    red: r,
    black: h.black[i],
  }));
  const showX = idx === 4;
  const pad = padsFor(false, showX);
  return (
    <>
      <div style={{ position: "absolute", left: COL_X[idx] - pad.left, top: HIST_TOP[idx] - pad.top }}>
        <ComposedChart
          width={PANEL_W + pad.left + pad.right}
          height={HIST_H + pad.top + pad.bottom}
          data={rows}
          barCategoryGap={0}
          barGap={0}
          margin={{ top: pad.top, right: pad.right, left: pad.left, bottom: showX ? pad.bottom - 110 : pad.bottom }}
        >
          {bottomAxis(p, showX, { xAxisId: "v", dataKey: "mid" })}
          <XAxis xAxisId="r" dataKey="bin" hide height={0} />
          <XAxis xAxisId="k" dataKey="bin" hide height={0} />
          <YAxis domain={[0, HIST_MAX]} hide />
          <Bar xAxisId="r" dataKey="red" fill="#ff0000" fillOpacity={0.6} stroke="#ff0000" strokeWidth={2} isAnimationActive={false} />
          <Bar xAxisId="k" dataKey="black" fill="#000000" fillOpacity={0.6} stroke="#000000" strokeWidth={2} isAnimationActive={false} />
          {h.ciRed.map((v, i) => (
            <ReferenceLine key={`cr-${i}`} xAxisId="v" x={v} stroke="#ff0000" strokeWidth={5} strokeDasharray="33 9 5 9" />
          ))}
          {h.ciBlack.map((v, i) => (
            <ReferenceLine key={`ck-${i}`} xAxisId="v" x={v} stroke="#000000" strokeOpacity={0.8} strokeWidth={5} strokeDasharray="33 9 5 9" />
          ))}
          <ReferenceLine xAxisId="v" x={TRUTH[idx]} stroke="#ff0000" strokeWidth={6.5} strokeDasharray="28 10" />
        </ComposedChart>
      </div>
      <Frame x={COL_X[idx]} y={HIST_TOP[idx]} w={PANEL_W} h={HIST_H} />
    </>
  );
}

const Sub = ({ children }: { children: React.ReactNode }) => (
  <span style={{ fontSize: "0.7em", verticalAlign: "-0.3em" }}>{children}</span>
);
const Sup = ({ children }: { children: React.ReactNode }) => (
  <span style={{ fontSize: "0.7em", verticalAlign: "0.65em" }}>{children}</span>
);

const TITLES = [
  <span key="sub">
    Σ<Sub>sub</Sub> × 10<Sup>2</Sup> [<i>kpc</i><Sup>−2</Sup>]
  </span>,
  <span key="los">
    <i>δ</i><Sub>LOS</Sub>
  </span>,
  <span key="src">
    <i>σ</i><Sub>src</Sub>
  </span>,
  <span key="gam">
    <i>γ</i><Sub>macro</Sub>
  </span>,
  <span key="mhm">
    log<Sub>10</Sub><i>m</i><Sub>hm</Sub>
  </span>,
];

const X_TITLE_POS = [
  [310, 1712],
  [627, 1684],
  [944, 1684],
  [1260, 1722],
  [1578, 1694],
];
const Y_TITLE_POS = [
  [0, 0],
  [66, 543],
  [96, 855],
  [68, 1166],
  [92, 1478],
];

function Title({ x, y, vertical, children }: { x: number; y: number; vertical?: boolean; children: React.ReactNode }) {
  return (
    <div
      style={{
        position: "absolute",
        left: x,
        top: y,
        transform: `translate(-50%, -50%)${vertical ? " rotate(-90deg)" : ""}`,
        whiteSpace: "nowrap",
        fontSize: 30,
        lineHeight: 1,
        fontFamily: FONT,
        color: "#000",
      }}
    >
      {children}
    </div>
  );
}

const legendStyle = {
  position: "absolute" as const,
  left: 813,
  transform: "translateY(-50%)",
  fontSize: 33.5,
  whiteSpace: "nowrap" as const,
  lineHeight: 1,
};

export default function App() {
  return (
    <div
      style={{
        position: "absolute",
        left: 0,
        top: 0,
        width: 1800,
        height: 1800,
        background: "#fff",
        fontFamily: FONT,
      }}
    >
      {HISTS.map((_, i) => (
        <HistPanel key={`h-${i}`} idx={i} />
      ))}
      {PAIRS.map((s) => (
        <PairPanel key={`p-${s.row}-${s.col}`} spec={s} />
      ))}
      {TITLES.map((t, i) => (
        <Title key={`xt-${i}`} x={X_TITLE_POS[i][0]} y={X_TITLE_POS[i][1]}>
          {t}
        </Title>
      ))}
      {TITLES.slice(1).map((t, i) => (
        <Title key={`yt-${i}`} x={Y_TITLE_POS[i + 1][0]} y={Y_TITLE_POS[i + 1][1]} vertical>
          {t}
        </Title>
      ))}
      <div style={{ ...legendStyle, top: 531, color: "#ff0000" }}>600,000 realizations per lens</div>
      <div style={{ ...legendStyle, top: 601, color: "#000" }}>400,000 realizations per lens</div>
    </div>
  );
}
